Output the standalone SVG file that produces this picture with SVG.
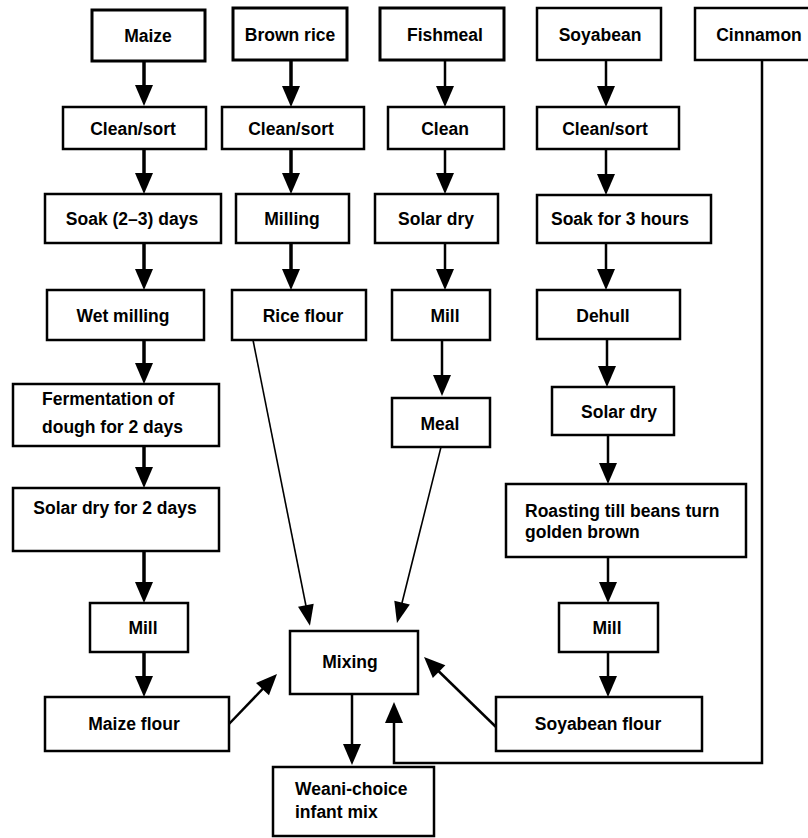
<svg xmlns="http://www.w3.org/2000/svg" width="808" height="838" viewBox="0 0 808 838">
<style>
  .box { fill: #fff; stroke: #000; stroke-width: 2.5; }
  .hv { stroke-width: 3; }
  text { font-family: "Liberation Sans", Arial, sans-serif; font-size: 17.5px; font-weight: bold; fill: #000; }
  .c { text-anchor: middle; }
  .a { fill: none; stroke: #000; stroke-width: 2.5; marker-end: url(#ah); }
  .a.t { stroke-width: 3.5; }
  .a.d { stroke-width: 1.6; marker-end: url(#ahs); }
</style>
<defs>
  <marker id="ah" markerUnits="userSpaceOnUse" markerWidth="22" markerHeight="18" refX="11" refY="9" orient="auto" overflow="visible">
    <path d="M0,0 L21,9 L0,18 z" fill="#000"/>
  </marker>
  <marker id="ahs" markerUnits="userSpaceOnUse" markerWidth="22" markerHeight="16" refX="11" refY="8" orient="auto" overflow="visible">
    <path d="M0,0 L21,8 L0,16 z" fill="#000"/>
  </marker>
</defs>
<rect width="808" height="838" fill="#fff"/>

<g id="connectors">
  <!-- maize column -->
  <line class="a t" x1="144" y1="61" x2="144" y2="96"/>
  <line class="a t" x1="144" y1="149" x2="144" y2="184"/>
  <line class="a t" x1="144" y1="243" x2="144" y2="280"/>
  <line class="a t" x1="144" y1="340" x2="144" y2="374"/>
  <line class="a t" x1="144" y1="446" x2="144" y2="478"/>
  <line class="a t" x1="144" y1="551" x2="144" y2="593"/>
  <line class="a t" x1="144" y1="652" x2="144" y2="687"/>
  <!-- rice column -->
  <line class="a t" x1="291" y1="60" x2="291" y2="97"/>
  <line class="a t" x1="291" y1="149" x2="291" y2="184"/>
  <line class="a t" x1="291" y1="243" x2="291" y2="280"/>
  <!-- fish column -->
  <line class="a" x1="445" y1="60" x2="445" y2="97"/>
  <line class="a" x1="445" y1="149" x2="445" y2="184"/>
  <line class="a" x1="445" y1="243" x2="445" y2="280"/>
  <line class="a" x1="442" y1="340" x2="442" y2="386"/>
  <!-- soy column -->
  <line class="a" x1="606" y1="60" x2="606" y2="97"/>
  <line class="a" x1="606" y1="149" x2="606" y2="185"/>
  <line class="a" x1="606" y1="243" x2="606" y2="280"/>
  <line class="a" x1="607" y1="339" x2="607" y2="377"/>
  <line class="a" x1="608" y1="435" x2="608" y2="474"/>
  <line class="a" x1="608" y1="557" x2="608" y2="593"/>
  <line class="a" x1="608" y1="652" x2="608" y2="687"/>
  <!-- into mixing -->
  <line class="a d" x1="253" y1="340" x2="308" y2="616"/>
  <line class="a d" x1="441" y1="447" x2="399.4" y2="613.3"/>
  <line class="a" x1="229" y1="724" x2="270.1" y2="681.2"/>
  <line class="a" x1="496" y1="727" x2="431.2" y2="664"/>
  <polyline class="a" points="762,60 762,763 394,763 394,712"/>
  <!-- out of mixing -->
  <line class="a" x1="352" y1="694" x2="352" y2="755"/>
</g>

<g id="maize"><rect class="box hv" x="92" y="10" width="113" height="51"/><text class="c" x="148" y="42">Maize</text></g>
<g id="brown-rice"><rect class="box hv" x="233" y="8" width="114" height="52"/><text class="c" x="290" y="41">Brown rice</text></g>
<g id="fishmeal"><rect class="box hv" x="380" y="8" width="124" height="52"/><text class="c" x="445" y="41">Fishmeal</text></g>
<g id="soyabean"><rect class="box" x="537" y="8" width="124" height="52"/><text class="c" x="600" y="41">Soyabean</text></g>
<g id="cinnamon"><rect class="box" x="695" y="8" width="125" height="52"/><text class="c" x="759" y="41">Cinnamon</text></g>

<g id="maize-clean"><rect class="box" x="63" y="107" width="143" height="42"/><text class="c" x="133" y="135">Clean/sort</text></g>
<g id="rice-clean"><rect class="box" x="222" y="107" width="142" height="42"/><text class="c" x="291" y="135">Clean/sort</text></g>
<g id="fish-clean"><rect class="box" x="388" y="107" width="116" height="42"/><text class="c" x="445" y="135">Clean</text></g>
<g id="soy-clean"><rect class="box" x="537" y="107" width="142" height="42"/><text class="c" x="605" y="135">Clean/sort</text></g>

<g id="maize-soak"><rect class="box" x="45" y="194" width="176" height="49"/><text class="c" x="132" y="225">Soak (2–3) days</text></g>
<g id="rice-milling"><rect class="box" x="236" y="194" width="113" height="49"/><text class="c" x="292" y="225">Milling</text></g>
<g id="fish-solar"><rect class="box" x="375" y="194" width="123" height="49"/><text class="c" x="436" y="225">Solar dry</text></g>
<g id="soy-soak"><rect class="box" x="537" y="195" width="174" height="48"/><text class="c" x="620" y="225">Soak for 3 hours</text></g>

<g id="wet-milling"><rect class="box" x="47" y="290" width="157" height="50"/><text class="c" x="123" y="322">Wet milling</text></g>
<g id="rice-flour"><rect class="box" x="232" y="290" width="134" height="50"/><text class="c" x="303" y="322">Rice flour</text></g>
<g id="fish-mill"><rect class="box" x="392" y="290" width="98" height="50"/><text class="c" x="445" y="322">Mill</text></g>
<g id="dehull"><rect class="box" x="537" y="290" width="143" height="49"/><text class="c" x="603" y="322">Dehull</text></g>

<g id="fermentation"><rect class="box" x="13" y="384" width="206" height="62"/><text x="42" y="405">Fermentation of</text><text x="42" y="433">dough for 2 days</text></g>
<g id="meal"><rect class="box" x="392" y="398" width="98" height="49"/><text class="c" x="440" y="430">Meal</text></g>
<g id="soy-solar"><rect class="box" x="552" y="387" width="122" height="48"/><text class="c" x="619" y="418">Solar dry</text></g>

<g id="maize-solar"><rect class="box" x="13" y="488" width="206" height="63"/><text class="c" x="115" y="514">Solar dry for 2 days</text></g>
<g id="roasting"><rect class="box" x="506" y="484" width="240" height="73"/><text x="525" y="517">Roasting till beans turn</text><text x="525" y="538">golden brown</text></g>

<g id="maize-mill"><rect class="box" x="90" y="603" width="98" height="49"/><text class="c" x="143" y="634">Mill</text></g>
<g id="soy-mill"><rect class="box" x="559" y="603" width="99" height="49"/><text class="c" x="607" y="634">Mill</text></g>
<g id="mixing"><rect class="box" x="290" y="631" width="128" height="63"/><text class="c" x="350" y="668">Mixing</text></g>
<g id="maize-flour"><rect class="box" x="45" y="697" width="184" height="54"/><text class="c" x="134" y="730">Maize flour</text></g>
<g id="soy-flour"><rect class="box" x="496" y="697" width="206" height="54"/><text class="c" x="598" y="730">Soyabean flour</text></g>
<g id="weani-choice"><rect class="box" x="273" y="767" width="161" height="69"/><text x="295" y="795">Weani-choice</text><text x="295" y="818">infant mix</text></g>
</svg>
